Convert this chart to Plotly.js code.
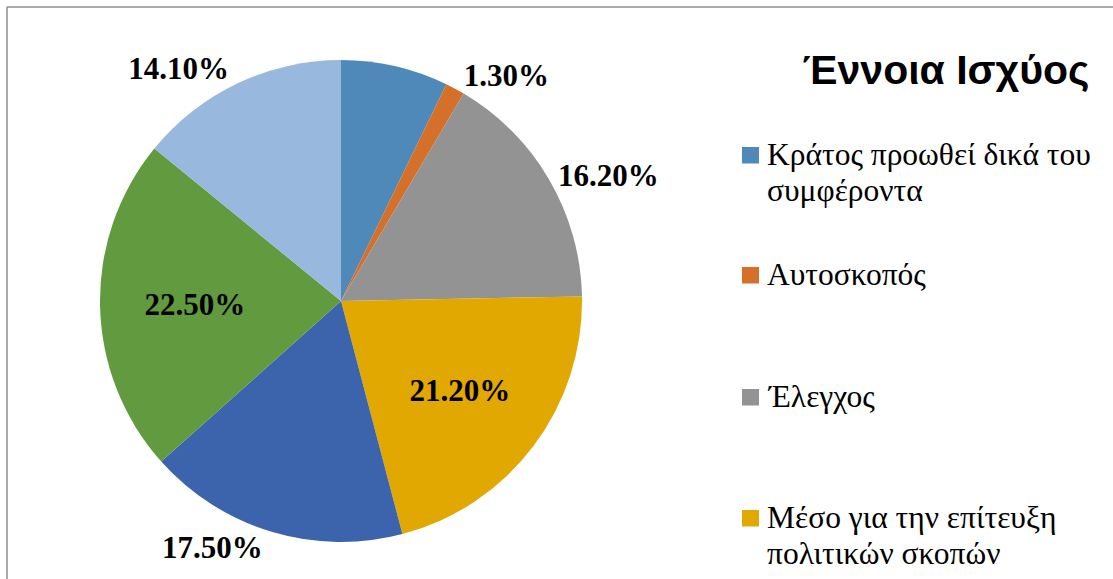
<!DOCTYPE html>
<html>
<head>
<meta charset="utf-8">
<script src="https://cdn.plot.ly/plotly-3.0.1.min.js"></script>
<style>
html,body{margin:0;padding:0;background:#fff;}
#chart{width:1113px;height:579px;}
</style>
</head>
<body>
<div id="chart"></div>
<script>
// ---- data ----
const categories = [
  "Κράτος προωθεί δικά του συμφέροντα",
  "Αυτοσκοπός",
  "Έλεγχος",
  "Μέσο για την επίτευξη πολιτικών σκοπών",
  "Κατηγορία 5",
  "Κατηγορία 6",
  "Κατηγορία 7"
];
const legendLines = [
  ["Κράτος προωθεί δικά του", "συμφέροντα"],
  ["Αυτοσκοπός"],
  ["Έλεγχος"],
  ["Μέσο για την επίτευξη", "πολιτικών σκοπών"]
];
const values = [7.2, 1.3, 16.2, 21.2, 17.5, 22.5, 14.1];
const colors = ["#4E89BA", "#D4702A", "#939393", "#E0A800", "#3C64AC", "#629A3F", "#98B8DE"];
const labelPos = ["none", "outside", "outside", "inside", "outside", "inside", "outside"];
const chartTitle = "Έννοια Ισχύος";

const W = 1113, H = 579;
const px = x => x / W;
const py = y => 1 - y / H;
const SERIF = "Liberation Serif";

const trace = {
  type: "pie",
  labels: categories,
  values: values,
  sort: false,
  direction: "clockwise",
  rotation: 0,
  marker: {colors: colors, line: {color: "#ffffff", width: 0}},
  text: values.map(v => v.toFixed(2) + "%"),
  texttemplate: "<b>%{text}</b>",
  textposition: labelPos,
  insidetextorientation: "horizontal",
  textfont: {family: SERIF, size: 31, color: "#000"},
  insidetextfont: {family: SERIF, size: 31, color: "#000"},
  outsidetextfont: {family: SERIF, size: 31, color: "#000"},
  hoverinfo: "label+percent",
  showlegend: false,
  domain: {x: [px(100), px(582)], y: [py(542), py(60)]}
};

const shapes = [];
// border (top and left)
shapes.push({type: "line", xref: "paper", yref: "paper", x0: px(7), x1: px(7), y0: 0, y1: py(7), line: {color: "#8c8c8c", width: 1.5}});
shapes.push({type: "line", xref: "paper", yref: "paper", x0: px(7), x1: 1, y0: py(7), y1: py(7), line: {color: "#8c8c8c", width: 1.5}});

const annotations = [];
const FS = 31.5;
const rowTop = [147, 267, 389, 510];
legendLines.forEach((lines, i) => {
  const top = rowTop[i];
  shapes.push({type: "rect", xref: "paper", yref: "paper",
    x0: px(742), x1: px(759), y0: py(top + 16.5), y1: py(top),
    fillcolor: colors[i], line: {width: 0}});
  lines.forEach((ln, j) => {
    const baseline = top + 17 + j * 36;
    annotations.push({
      xref: "paper", yref: "paper", x: px(765), y: py(baseline - 10),
      xanchor: "left", yanchor: "middle", align: "left", showarrow: false,
      text: ln,
      font: {family: SERIF, size: FS, color: "#000"}
    });
  });
});

const layout = {
  width: W, height: H,
  margin: {l: 0, r: 0, t: 0, b: 0},
  paper_bgcolor: "#ffffff",
  font: {family: SERIF},
  title: {text: "<b>" + chartTitle + "</b>", x: px(946), y: py(70), xanchor: "center", yanchor: "middle",
          font: {family: "Liberation Sans", size: 41, color: "#000"}},
  showlegend: false,
  shapes: shapes,
  annotations: annotations
};

Plotly.newPlot("chart", [trace], layout, {displayModeBar: false});
</script>
</body>
</html>
